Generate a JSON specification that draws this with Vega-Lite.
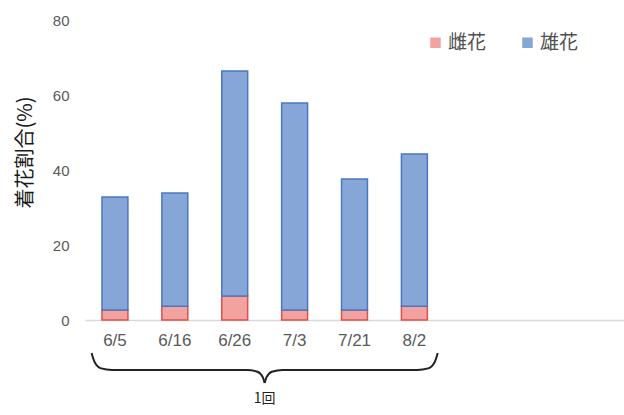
{
  "$schema": "https://vega.github.io/schema/vega-lite/v6.json",
  "width": 539,
  "height": 300,
  "autosize": {"type": "none"},
  "padding": {"left": 85, "top": 20, "right": 0, "bottom": 95},
  "background": "white",
  "config": {"view": {"stroke": null}, "font": "Noto Sans CJK JP"},
  "datasets": {
    "bars": [
      {"date": "6/5", "sex": "雌花", "pct": 2.7},
      {"date": "6/5", "sex": "雄花", "pct": 30.1},
      {"date": "6/16", "sex": "雌花", "pct": 3.7},
      {"date": "6/16", "sex": "雄花", "pct": 30.2},
      {"date": "6/26", "sex": "雌花", "pct": 6.4},
      {"date": "6/26", "sex": "雄花", "pct": 60.0},
      {"date": "7/3", "sex": "雌花", "pct": 2.7},
      {"date": "7/3", "sex": "雄花", "pct": 55.2},
      {"date": "7/21", "sex": "雌花", "pct": 2.7},
      {"date": "7/21", "sex": "雄花", "pct": 34.9},
      {"date": "8/2", "sex": "雌花", "pct": 3.7},
      {"date": "8/2", "sex": "雄花", "pct": 40.6}
    ],
    "brace": [
      {"side": "L", "s": 0.11, "v": -8.8},
      {"side": "L", "s": 0.16, "v": -11.2},
      {"side": "L", "s": 0.27, "v": -12.9},
      {"side": "L", "s": 0.45, "v": -13.3},
      {"side": "L", "s": 2.7, "v": -13.3},
      {"side": "L", "s": 2.88, "v": -13.8},
      {"side": "L", "s": 2.97, "v": -15.3},
      {"side": "L", "s": 3.0, "v": -16.8},
      {"side": "R", "s": 3.0, "v": -16.8},
      {"side": "R", "s": 3.03, "v": -15.3},
      {"side": "R", "s": 3.12, "v": -13.8},
      {"side": "R", "s": 3.3, "v": -13.3},
      {"side": "R", "s": 5.55, "v": -13.3},
      {"side": "R", "s": 5.73, "v": -12.9},
      {"side": "R", "s": 5.84, "v": -11.2},
      {"side": "R", "s": 5.89, "v": -8.8}
    ],
    "label": [{"s": 3.0, "v": -21.0, "t": "1回"}]
  },
  "layer": [
    {
      "data": {"name": "bars"},
      "mark": {"type": "bar", "strokeWidth": 1.5},
      "encoding": {
        "x": {
          "field": "date",
          "type": "nominal",
          "sort": null,
          "scale": {
            "domain": ["6/5", "6/16", "6/26", "7/3", "7/21", "8/2", " ", "  ", "   "],
            "paddingInner": 0.567,
            "paddingOuter": 0.2835
          },
          "axis": {
            "title": null,
            "labelAngle": 0,
            "ticks": false,
            "domainColor": "#d9d9d9",
            "domainWidth": 1.5,
            "labelColor": "#595959",
            "labelFontSize": 17,
            "labelFont": "Liberation Sans",
            "labelPadding": 12
          }
        },
        "y": {
          "field": "pct",
          "type": "quantitative",
          "stack": "zero",
          "scale": {"domain": [0, 80], "nice": false},
          "axis": {
            "values": [0, 20, 40, 60, 80],
            "domain": false,
            "ticks": false,
            "grid": false,
            "labelColor": "#595959",
            "labelFontSize": 15,
            "labelFont": "Liberation Sans",
            "labelPadding": 16,
            "title": "着花割合(%)",
            "titleFontSize": 20,
            "titleFontWeight": "normal",
            "titleColor": "#1a1a1a",
            "titleX": -60,
            "titleY": 132,
            "titleBaseline": "middle"
          }
        },
        "color": {
          "field": "sex",
          "type": "nominal",
          "scale": {"domain": ["雌花", "雄花"], "range": ["#f2a3a0", "#86a6d8"]},
          "legend": {
            "title": null,
            "orient": "none",
            "direction": "horizontal",
            "legendX": 341,
            "legendY": 13,
            "symbolType": "square",
            "symbolSize": 110,
            "symbolStrokeWidth": 0,
            "labelFontSize": 19,
            "labelColor": "#505050",
            "labelOffset": 3,
            "columnPadding": 31
          }
        },
        "stroke": {
          "field": "sex",
          "type": "nominal",
          "scale": {"domain": ["雌花", "雄花"], "range": ["#e0504a", "#4a78c0"]},
          "legend": null
        },
        "order": {"field": "sex", "sort": "descending"}
      }
    },
    {
      "data": {"name": "brace"},
      "mark": {"type": "line", "interpolate": "monotone", "color": "#222222", "strokeWidth": 2},
      "encoding": {
        "x": {"field": "s", "type": "quantitative", "scale": {"domain": [0, 9], "nice": false, "zero": false}, "axis": null},
        "y": {"field": "v", "type": "quantitative"},
        "detail": {"field": "side"}
      }
    },
    {
      "data": {"name": "label"},
      "mark": {"type": "text", "fontSize": 14, "color": "#222222", "baseline": "middle", "align": "center"},
      "encoding": {
        "x": {"field": "s", "type": "quantitative", "scale": {"domain": [0, 9], "nice": false, "zero": false}, "axis": null},
        "y": {"field": "v", "type": "quantitative"},
        "text": {"field": "t"}
      }
    }
  ],
  "resolve": {"scale": {"x": "independent"}}
}
